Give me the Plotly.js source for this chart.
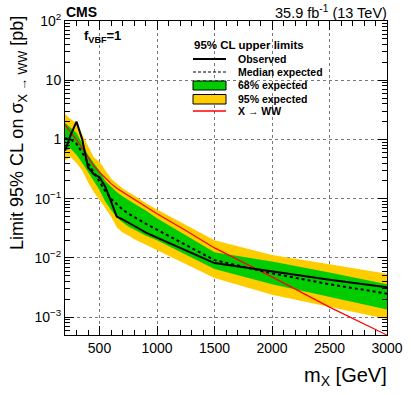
<!DOCTYPE html>
<html>
<head>
<meta charset="utf-8">
<script src="https://cdn.plot.ly/plotly-3.0.1.min.js"></script>
<style>html,body{margin:0;padding:0;background:#fff;}#chart{width:411px;height:395px;}</style>
</head>
<body>
<div id="chart"></div>
<script>
// ---- data ----
var mass      = [200, 250, 300, 350, 400, 450, 500, 550, 600, 650, 700, 750, 800, 900, 1000, 1500, 2000, 2500, 3000];
var observed  = [0.65, 1.2, 2.0, 1.0, 0.34, 0.26, 0.23, 0.16, 0.09, 0.05, 0.045, 0.04, 0.035, 0.027, 0.022, 0.0082, 0.0059, 0.0043, 0.0032];
var median    = [1.05, 1.0, 0.85, 0.6, 0.4, 0.28, 0.2, 0.135, 0.1, 0.08, 0.066, 0.056, 0.049, 0.038, 0.03, 0.0092, 0.0055, 0.0036, 0.0025];
var exp68Up   = [1.9, 1.6, 1.3, 0.85, 0.55, 0.4, 0.3, 0.2, 0.16, 0.13, 0.11, 0.095, 0.083, 0.064, 0.047, 0.0125, 0.0087, 0.0057, 0.0036];
var exp68Down = [0.65, 0.7, 0.55, 0.4, 0.28, 0.2, 0.14, 0.09, 0.065, 0.048, 0.04, 0.034, 0.03, 0.024, 0.02, 0.0065, 0.0036, 0.0022, 0.00135];
var exp95Up   = [2.7, 2.2, 1.9, 1.2, 0.75, 0.5, 0.42, 0.3, 0.22, 0.18, 0.15, 0.13, 0.115, 0.085, 0.066, 0.020, 0.0112, 0.0078, 0.0054];
var exp95Down = [0.45, 0.5, 0.4, 0.3, 0.19, 0.13, 0.097, 0.07, 0.05, 0.033, 0.027, 0.024, 0.021, 0.017, 0.0135, 0.0046, 0.0024, 0.0015, 0.00093];
var theoryMass = [200, 250, 300, 350, 400, 450, 500, 550, 600, 650, 700, 750, 800, 900, 1000, 1250, 1500, 2000, 2500, 3000];
var theoryXS   = [1.8, 1.3, 1.0, 0.7, 0.5, 0.36, 0.28, 0.22, 0.18, 0.15, 0.13, 0.115, 0.10, 0.074, 0.056, 0.029, 0.0148, 0.0048, 0.00148, 0.0005];
var xTickVals = [500, 1000, 1500, 2000, 2500, 3000];
var xTickText = ['500', '1000', '1500', '2000', '2500', '3000'];
var yTickVals = [1e-3, 1e-2, 1e-1, 1, 10, 100];
var yTickText = ['10<sup>\u22123</sup>', '10<sup>\u22122</sup>', '10<sup>\u22121</sup>', '1', '10', '10<sup>2</sup>'];
var legendLabels = ['Observed', 'Median expected', '68% expected', '95% expected', 'X \u2192 WW'];

// ---- colours/styles ----
var GREEN = 'rgb(0,204,0)', YELLOW = 'rgb(255,204,0)', RED = 'rgb(255,0,0)';
var FONT = 'Liberation Sans, Arial, sans-serif';

function band(lo, hi) {
  return {x: mass.concat(mass.slice().reverse()), y: hi.concat(lo.slice().reverse())};
}
var b95 = band(exp95Down, exp95Up), b68 = band(exp68Down, exp68Up);

var traces = [
  {x: b95.x, y: b95.y, type: 'scatter', mode: 'lines', fill: 'toself', fillcolor: YELLOW, line: {width: 0, color: YELLOW}, hoverinfo: 'skip', showlegend: false},
  {x: b68.x, y: b68.y, type: 'scatter', mode: 'lines', fill: 'toself', fillcolor: GREEN, line: {width: 0, color: GREEN}, hoverinfo: 'skip', showlegend: false},
  {x: theoryMass, y: theoryXS, type: 'scatter', mode: 'lines', line: {color: RED, width: 1.2}, showlegend: false},
  {x: mass, y: median, type: 'scatter', mode: 'lines', line: {color: 'black', width: 2, dash: '3px,3px'}, showlegend: false},
  {x: mass, y: observed, type: 'scatter', mode: 'lines', line: {color: 'black', width: 2}, showlegend: false}
];

// minor tick positions on the log axis
var yMinor = [];
for (var e = -4; e <= 1; e++) { for (var k = 2; k <= 9; k++) { yMinor.push(k * Math.pow(10, e)); } }

// pixel helpers for paper coordinates (plot area: x 65..387, y 21..335)
var L = 65, T = 21, W = 322, H = 314;
function xp(px) { return (px - L) / W; }
function yp(py) { return (T + H - py) / H; }

var shapes = [
  {type: 'line', xref: 'paper', yref: 'paper', x0: xp(193), x1: xp(226), y0: yp(59), y1: yp(59), line: {color: 'black', width: 2}},
  {type: 'line', xref: 'paper', yref: 'paper', x0: xp(193), x1: xp(226), y0: yp(72), y1: yp(72), line: {color: 'black', width: 1.2, dash: '3px,2px'}},
  {type: 'rect', xref: 'paper', yref: 'paper', x0: xp(193), x1: xp(226), y0: yp(90), y1: yp(81), fillcolor: GREEN, line: {color: 'black', width: 1}},
  {type: 'rect', xref: 'paper', yref: 'paper', x0: xp(193), x1: xp(226), y0: yp(104), y1: yp(94.5), fillcolor: YELLOW, line: {color: 'black', width: 1}},
  {type: 'line', xref: 'paper', yref: 'paper', x0: xp(193), x1: xp(226), y0: yp(111), y1: yp(111), line: {color: RED, width: 1.5}}
];

function ann(text, px, py, xa, size, extra) {
  var a = {text: text, xref: 'paper', yref: 'paper', x: xp(px), y: yp(py), xanchor: xa, yanchor: 'middle', showarrow: false,
           font: {family: FONT, size: size, color: 'black'}};
  if (extra) { for (var key in extra) a[key] = extra[key]; }
  return a;
}
var legY = [58.5, 71.5, 85, 99, 111];
var annotations = [
  ann('<b>CMS</b>', 64, 12.5, 'left', 14),
  ann('35.9 fb<sup>-1</sup> (13 TeV)', 389, 12.5, 'right', 14.5),
  ann('<b>f<sub>VBF</sub>=1</b>', 81.5, 36, 'left', 13),
  ann('<b>95% CL upper limits</b>', 191.5, 45, 'left', 11.5),
  ann('m<sub>X</sub> [GeV]', 389, 376, 'right', 20),
  {text: 'Limit 95% CL on \u03c3<sub>X \u2192 WW</sub> [pb]', xref: 'paper', yref: 'paper', x: xp(19), y: yp(14), xanchor: 'center', yanchor: 'top',
   textangle: -90, showarrow: false, font: {family: FONT, size: 18, color: 'black'}}
];
for (var i = 0; i < legendLabels.length; i++) {
  annotations.push(ann('<b>' + legendLabels[i] + '</b>', 235.5, legY[i], 'left', 10.5));
}

var layout = {
  width: 411, height: 395,
  margin: {l: L, r: 411 - L - W, t: T, b: 395 - T - H, pad: 0},
  paper_bgcolor: 'white', plot_bgcolor: 'white',
  showlegend: false,
  font: {family: FONT, size: 14, color: 'black'},
  xaxis: {
    range: [200, 3000], tickmode: 'array', tickvals: xTickVals, ticktext: xTickText,
    ticks: 'inside', ticklen: 9, tickwidth: 1, tickcolor: 'black',
    showline: true, linecolor: 'black', linewidth: 1, mirror: 'ticks',
    showgrid: true, gridcolor: 'rgb(120,120,120)', griddash: 'dot', gridwidth: 1,
    zeroline: false, tickfont: {family: FONT, size: 14},
    minor: {tickmode: 'linear', tick0: 0, dtick: 100, ticks: 'inside', ticklen: 5, tickcolor: 'black', showgrid: false}
  },
  yaxis: {
    type: 'log', range: [-3.3, 2], tickmode: 'array', tickvals: yTickVals, ticktext: yTickText,
    ticks: 'inside', ticklen: 9, tickwidth: 1, tickcolor: 'black',
    showline: true, linecolor: 'black', linewidth: 1, mirror: 'ticks',
    showgrid: true, gridcolor: 'rgb(120,120,120)', griddash: 'dot', gridwidth: 1,
    zeroline: false, tickfont: {family: FONT, size: 14},
    minor: {tickmode: 'array', tickvals: yMinor, ticks: 'inside', ticklen: 5, tickcolor: 'black', showgrid: false}
  },
  shapes: shapes,
  annotations: annotations
};

Plotly.newPlot('chart', traces, layout, {staticPlot: true, displayModeBar: false});
</script>
</body>
</html>
